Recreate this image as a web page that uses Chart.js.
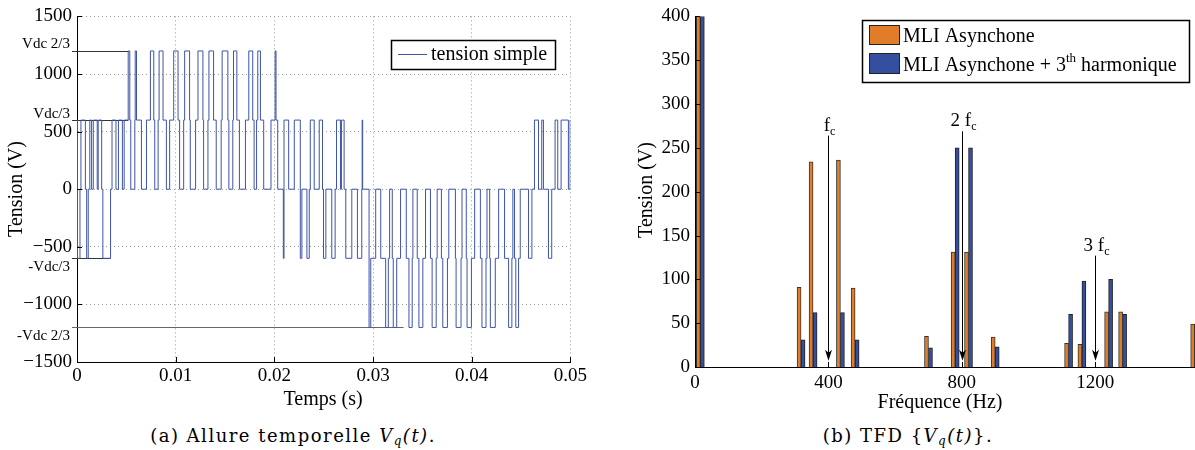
<!DOCTYPE html>
<html>
<head>
<meta charset="utf-8">
<script src="https://cdn.jsdelivr.net/npm/chart.js@4.4.1/dist/chart.umd.min.js"></script>
<style>
  body { margin: 0; background: #fff; width: 1195px; height: 450px; overflow: hidden; position: relative; }
  canvas { position: absolute; top: 0; }
  #vq { left: 0; }
  #tfd { left: 600px; }
  .cap { position: absolute; top: 425px; line-height: 22px; font-family: "DejaVu Serif", serif; font-size: 18px; letter-spacing: 1.5px; white-space: nowrap; transform: translateX(-50%); }
  .cap sub { font-size: 12px; vertical-align: -3px; line-height: 0; }
</style>
</head>
<body>
<canvas id="vq" width="590" height="420"></canvas>
<canvas id="tfd" width="595" height="420"></canvas>
<div class="cap" style="left:293px">(a) Allure temporelle <i>V<sub>q</sub>(t)</i>.</div>
<div class="cap" style="left:908px">(b) TFD {<i>V<sub>q</sub>(t)</i>}.</div>
<script>
// tension simple : [instant (ms), niveau (V)] a chaque commutation
const vqSteps = [
  [0.00, 600], [0.05, -600], [0.30, 0], [0.40, 600], [0.85, 0], [0.98, -600],
  [1.14, 0], [1.30, 600], [1.48, 0], [1.65, 600], [2.05, 0], [2.15, 600],
  [2.50, 0], [2.62, -600], [3.40, 0], [3.55, 600], [3.95, 0], [4.20, 600],
  [4.60, 0], [4.78, 600],
  [5.19, 1200], [5.35, 600], [5.45, 0], [5.86, 600], [5.90, 1200], [6.03, 600],
  [6.53, 0], [7.04, 600], [7.44, 1200], [7.78, 600], [7.88, 0], [8.22, 600],
  [8.32, 1200], [8.72, 600], [9.06, 0], [9.39, 600], [9.80, 1200], [10.24, 600],
  [10.40, 0], [10.81, 600], [10.91, 1200], [11.41, 600], [11.48, 0], [12.02, 600],
  [12.26, 1200], [12.76, 600], [12.83, 0], [13.27, 600], [13.37, 1200], [13.84, 600],
  [14.11, 0], [14.61, 600], [14.71, 1200], [15.29, 600], [15.39, 0], [15.79, 600],
  [15.86, 1200], [16.20, 600], [16.46, 0], [17.07, 600], [17.41, 1200], [17.81, 600],
  [17.95, 0], [18.20, 600], [18.32, 1200], [18.59, 600], [18.92, 0], [19.66, 600],
  [20.08, 1200], [20.17, 600],
  [20.34, 0], [20.91, -600], [20.98, 600], [21.45, 0], [22.02, 600], [22.63, -600],
  [22.79, 0], [23.30, -600], [23.54, 0], [23.64, 600], [24.04, 0], [24.55, 600],
  [24.88, 0], [24.98, -600], [25.22, 0], [25.82, -600], [26.16, 0], [26.30, 600],
  [26.70, 0], [26.80, 600], [27.07, 0], [27.24, -600], [27.85, 0], [28.42, -600],
  [28.86, 0], [28.90, 600], [28.95, 0],
  [29.60, -1200], [29.77, -600], [30.27, 0], [30.78, -600], [31.28, -1200], [31.55, -600],
  [31.68, 0], [31.95, -600], [32.05, -1200], [32.40, -600], [32.79, 0], [33.37, -600],
  [33.64, -1200], [33.97, -600], [34.04, 0], [34.48, -600], [34.65, -1200], [35.05, -600],
  [35.32, 0], [35.82, -600], [35.99, -1200], [36.40, -600], [36.50, 0], [36.93, -600],
  [37.07, -1200], [37.54, -600], [37.68, 0], [38.35, -600], [38.42, -1200], [38.92, -600],
  [39.02, 0], [39.45, -600], [39.53, -1200], [39.97, -600], [40.30, 0], [40.88, -600],
  [41.04, -1200], [41.45, -600], [41.55, 0], [41.82, -600], [41.89, -1200], [42.39, -600],
  [42.73, 0], [43.33, -600], [43.74, -1200], [44.07, -600], [44.17, 0], [44.34, -600],
  [44.47, -1200], [44.75, -600],
  [44.92, 0], [45.76, -600], [46.10, 0], [46.36, 600], [46.77, 0], [47.10, 600],
  [47.27, 0], [47.78, -600], [48.11, 0], [48.45, 600], [48.72, 0], [49.06, 600],
  [49.80, 0], [49.97, 600], [50.00, 600]
];
const vdcLevels = [1200, 600, -600, -1200];
const vdcLabels = ['Vdc 2/3', 'Vdc/3', '-Vdc/3', '-Vdc 2/3'];
const vdcLineEnds = [0.0052, 0.0052, 0.0034, 0.0331];

// spectre (TFD)
const freqs = [16, 318, 354, 436, 480, 700, 780, 820, 900, 1120, 1160, 1240, 1282, 1498];
const mliAsync = [400, 91, 234, 236, 90, 35, 131, 131, 34, 27, 26, 63, 63, 49];
const mliAsync3h = [400, 31, 62, 62, 31, 22, 250, 250, 23, 60, 98, 100, 60, 30];
const freqTicks = [0, 400, 800, 1200];
const fcMarks = [400, 800, 1200];
const fcLabels = ['f', '2 f', '3 f'];
const fcArrowTops = [264, 269, 127];

const SERIF = '"Liberation Serif", serif';
const BLUE = 'rgb(62,84,170)';
const ORANGE = 'rgb(225,125,40)';
const BAR_BLUE = 'rgb(52,78,160)';

Chart.defaults.font.family = SERIF;
Chart.defaults.font.size = 19;
Chart.defaults.color = '#000';

const minus = v => String(v).replace('-', '\u2212');

function seg(ctx, x1, y1, x2, y2) {
  ctx.beginPath();
  ctx.moveTo(x1, y1);
  ctx.lineTo(x2, y2);
  ctx.stroke();
}

function innerTicks(chart) {
  const { ctx, chartArea: a, scales: { x, y } } = chart;
  ctx.save();
  ctx.strokeStyle = '#000';
  ctx.lineWidth = 1;
  x.ticks.forEach(t => {
    const px = Math.round(x.getPixelForValue(t.value)) + 0.5;
    seg(ctx, px, a.bottom, px, a.bottom - 5);
  });
  y.ticks.forEach(t => {
    const py = Math.round(y.getPixelForValue(t.value)) + 0.5;
    seg(ctx, a.left, py, a.left + 5, py);
  });
  ctx.restore();
}

const vqDecor = {
  id: 'vqDecor',
  beforeDatasetsDraw(chart) {
    const { ctx, chartArea: a, scales: { x, y } } = chart;
    ctx.save();
    ctx.lineWidth = 1;
    vdcLevels.forEach((v, i) => {
      const py = Math.round(y.getPixelForValue(v)) + 0.5;
      ctx.strokeStyle = i === 3 ? '#666' : '#333';
      seg(ctx, a.left - 5, py, x.getPixelForValue(vdcLineEnds[i]), py);
    });
    ctx.restore();
  },
  afterDraw(chart) {
    const { ctx, scales: { y } } = chart;
    innerTicks(chart);
    ctx.save();
    ctx.fillStyle = '#000';
    ctx.font = '15px ' + SERIF;
    ctx.textAlign = 'right';
    vdcLabels.forEach((lab, i) => {
      const v = vdcLevels[i];
      const py = y.getPixelForValue(v);
      ctx.textBaseline = v > 0 ? 'bottom' : 'top';
      ctx.fillText(lab, 70, py + 1);
    });
    // titres d'axes
    ctx.font = '20px ' + SERIF;
    ctx.textAlign = 'center';
    ctx.textBaseline = 'middle';
    ctx.fillText('Temps (s)', 323, 400);
    ctx.save();
    ctx.translate(17, 189);
    ctx.rotate(-Math.PI / 2);
    ctx.fillText('Tension (V)', 0, 0);
    ctx.restore();
    // legende
    ctx.fillStyle = '#fff';
    ctx.fillRect(391, 40, 164, 29);
    ctx.strokeStyle = '#000';
    ctx.lineWidth = 1.5;
    ctx.strokeRect(391.5, 40.5, 164, 29);
    ctx.strokeStyle = BLUE;
    ctx.lineWidth = 1;
    seg(ctx, 398, 54.5, 427, 54.5);
    ctx.fillStyle = '#000';
    ctx.font = '20px ' + SERIF;
    ctx.textAlign = 'left';
    ctx.fillText('tension simple', 431, 55);
    ctx.restore();
  }
};

new Chart(document.getElementById('vq'), {
  type: 'line',
  data: {
    datasets: [{
      label: 'tension simple',
      data: vqSteps.map(([t, v]) => ({ x: t / 1000, y: v })),
      borderColor: BLUE,
      borderWidth: 1,
      pointRadius: 0,
      stepped: true,
      fill: false
    }]
  },
  options: {
    responsive: false,
    animation: false,
    layout: { padding: { top: 16, right: 18, left: 0, bottom: 0 } },
    plugins: { legend: { display: false }, tooltip: { enabled: false } },
    scales: {
      x: {
        type: 'linear',
        min: 0,
        max: 0.05,
        afterFit: s => { s.height = 58; },
        ticks: { stepSize: 0.01, includeBounds: false, padding: 3, maxRotation: 0,
          callback: v => v === 0 ? '0' : v.toFixed(2) },
        grid: { color: '#9a9a9a', lineWidth: 1, drawTicks: false },
        border: { color: '#000', width: 1, dash: [1, 3] }
      },
      y: {
        min: -1500,
        max: 1500,
        afterFit: s => { s.width = 77; },
        ticks: { stepSize: 500, padding: 5, callback: v => minus(v) },
        grid: { color: '#9a9a9a', lineWidth: 1, drawTicks: false },
        border: { color: '#000', width: 1, dash: [1, 3] }
      }
    }
  },
  plugins: [vqDecor]
});

const tfdDecor = {
  id: 'tfdDecor',
  afterDraw(chart) {
    const { ctx, scales: { x, y } } = chart;
    innerTicks(chart);
    ctx.save();
    ctx.strokeStyle = '#000';
    ctx.fillStyle = '#000';
    ctx.lineWidth = 1;
    fcMarks.forEach((f, i) => {
      const px = Math.round(x.getPixelForValue(f)) + 0.5;
      const top = y.getPixelForValue(fcArrowTops[i]);
      const tip = y.getPixelForValue(7);
      seg(ctx, px, top, px, tip - 4);
      ctx.beginPath();
      ctx.moveTo(px, tip);
      ctx.lineTo(px - 3.5, tip - 11);
      ctx.lineTo(px, tip - 8);
      ctx.lineTo(px + 3.5, tip - 11);
      ctx.closePath();
      ctx.fill();
      // etiquette f_c
      ctx.font = '19px ' + SERIF;
      const w1 = ctx.measureText(fcLabels[i]).width;
      ctx.font = '12px ' + SERIF;
      const w2 = ctx.measureText('c').width;
      const x0 = px - (w1 + w2) / 2 + 1;
      ctx.textAlign = 'left';
      ctx.textBaseline = 'alphabetic';
      ctx.font = '19px ' + SERIF;
      ctx.fillText(fcLabels[i], x0, top - 5);
      ctx.font = '12px ' + SERIF;
      ctx.fillText('c', x0 + w1, top - 1);
    });
    // titres d'axes
    ctx.font = '20px ' + SERIF;
    ctx.textAlign = 'center';
    ctx.textBaseline = 'middle';
    ctx.fillText('Fréquence (Hz)', 340, 403);
    ctx.save();
    ctx.translate(47, 190);
    ctx.rotate(-Math.PI / 2);
    ctx.fillText('Tension (V)', 0, 0);
    ctx.restore();
    // legende
    ctx.fillStyle = '#fff';
    ctx.fillRect(262, 20, 327, 62);
    ctx.strokeStyle = '#000';
    ctx.lineWidth = 1.5;
    ctx.strokeRect(262.5, 20.5, 327, 62);
    ctx.lineWidth = 1;
    ctx.strokeStyle = '#222';
    ctx.fillStyle = ORANGE;
    ctx.fillRect(269, 25, 30, 19);
    ctx.strokeRect(269.5, 25.5, 30, 19);
    ctx.fillStyle = BAR_BLUE;
    ctx.fillRect(269, 53, 30, 20);
    ctx.strokeRect(269.5, 53.5, 30, 20);
    ctx.fillStyle = '#000';
    ctx.textAlign = 'left';
    ctx.textBaseline = 'alphabetic';
    ctx.font = '20px ' + SERIF;
    ctx.fillText('MLI Asynchone', 303, 42);
    const a = 'MLI Asynchone + 3';
    ctx.fillText(a, 303, 71);
    let xx = 303 + ctx.measureText(a).width;
    ctx.font = '13px ' + SERIF;
    ctx.fillText('th', xx, 62);
    xx += ctx.measureText('th').width;
    ctx.font = '20px ' + SERIF;
    ctx.fillText(' harmonique', xx, 71);
    ctx.restore();
  }
};

new Chart(document.getElementById('tfd'), {
  type: 'bar',
  data: {
    datasets: [
      {
        label: 'MLI Asynchone',
        data: freqs.map((f, i) => ({ x: f, y: mliAsync[i] })),
        backgroundColor: ORANGE,
        borderColor: '#333',
        borderWidth: 1,
        barThickness: 4
      },
      {
        label: 'MLI Asynchone + 3th harmonique',
        data: freqs.map((f, i) => ({ x: f, y: mliAsync3h[i] })),
        backgroundColor: BAR_BLUE,
        borderColor: '#222',
        borderWidth: 1,
        barThickness: 4
      }
    ]
  },
  options: {
    responsive: false,
    animation: false,
    layout: { padding: { top: 15, right: 0, left: 0, bottom: 0 } },
    plugins: { legend: { display: false }, tooltip: { enabled: false } },
    scales: {
      x: {
        type: 'linear',
        min: 0,
        max: 1499,
        offset: false,
        afterFit: s => { s.height = 53; },
        afterBuildTicks: s => { s.ticks = freqTicks.map(v => ({ value: v })); },
        ticks: { padding: 5, maxRotation: 0, callback: v => String(v) },
        grid: { display: false, drawTicks: false },
        border: { color: '#000', width: 1 }
      },
      y: {
        min: 0,
        max: 400,
        afterFit: s => { s.width = 95; },
        ticks: { stepSize: 50, padding: 5 },
        grid: { display: false, drawTicks: false },
        border: { color: '#000', width: 1 }
      }
    }
  },
  plugins: [tfdDecor]
});
</script>
</body>
</html>
